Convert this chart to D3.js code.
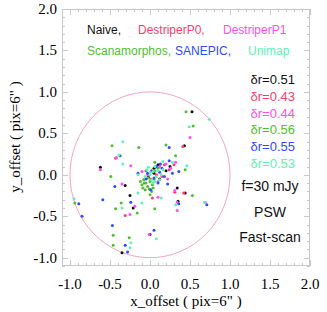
<!DOCTYPE html>
<html>
<head>
<meta charset="utf-8">
<script src="https://cdn.jsdelivr.net/npm/d3@7"></script>
<style>
  body { margin: 0; background: #fff; }
  svg { display: block; }
</style>
</head>
<body>
<script>
// axis ticks
var majorTicks = [-1.0, -0.5, 0.0, 0.5, 1.0, 1.5, 2.0];

// offsets of each map maker, in pixels of 6"
var naive = [[0.525,0.76],[0.43,0.35],[-0.62,0.09],[-0.31,-0.13],[-0.25,-0.25],[-0.21,-0.40],[-0.35,-0.94],
  [0.34,-0.16],[0.44,-0.22],[0.35,-0.32],[0.0,-0.72],[0.1,0.12],[0.2,0.05],[0.05,0.02],[-0.02,-0.03],
  [0.12,-0.05],[0.25,0.1],[0.05,0.08]];
var destriperP0 = [[-0.43,0.20],[0.41,0.34],[-0.31,-0.49],[0.42,-0.22],[0.03,-0.28],[0.31,-0.21],[0.18,0.12],
  [0.24,0.06],[0.08,0.0],[-0.05,0.05],[0.3,0.12],[0.01,-0.05],[0.15,-0.02]];
var destriperP1 = [[0.5,0.45],[-0.42,0.21],[-0.24,0.11],[-0.62,0.06],[-0.35,-0.11],[-0.19,-0.38],[-0.25,-0.48],
  [0.31,-0.19],[0.34,-0.33],[0.34,-0.43],[0.1,-0.27],[-0.01,-0.72],[0.69,-0.33],[0.26,0.08],[-0.1,0.04],
  [0.32,0.15],[0.2,0.13],[0.12,0.1],[-0.03,0.0],[0.1,-0.08],[0.22,-0.05]];
var scanamorphos = [[0.45,0.76],[0.54,0.59],[-0.475,0.35],[-0.14,0.33],[0.2,0.36],[0.32,0.23],[0.06,0.15],
  [0.44,0.06],[-0.49,-0.02],[-0.94,-0.34],[-0.36,-0.34],[-0.43,-0.41],[-0.16,-0.46],[-0.46,-0.73],
  [-0.26,-0.76],[-0.46,-0.85],[0.04,-0.16],[0.53,-0.25],[0.06,-0.41],[-0.08,-0.06],[-0.05,-0.1],
  [-0.1,-0.12],[-0.03,-0.14],[0.0,-0.08],[-0.06,-0.18],[0.02,-0.2],[-0.09,-0.16],[0.03,-0.12],
  [-0.02,-0.04],[0.05,-0.05],[-0.12,-0.08],[0.0,-0.24],[0.06,0.05],[0.1,0.08],[-0.07,-0.1],[-0.01,-0.17]];
var sanepic = [[0.24,0.33],[-0.375,0.23],[-0.15,0.02],[0.24,0.17],[0.36,0.04],[-0.44,-0.14],[-0.89,-0.35],
  [-0.59,-0.30],[-0.24,-0.33],[-0.85,-0.5],[-0.47,-0.61],[-0.31,-0.85],[-0.28,-0.93],[0.22,-0.11],
  [0.01,-0.18],[0.36,-0.35],[0.71,-0.36],[0.05,-0.67],[0.02,0.05],[0.08,0.1],[0.12,0.03],[-0.03,0.02],
  [0.15,0.08],[0.05,-0.04],[0.18,-0.02],[-0.05,-0.05],[0.1,-0.1],[0.28,0.02],[0.13,0.13]];
var unimap = [[0.74,0.67],[0.49,0.58],[-0.34,0.40],[-0.39,0.24],[-0.34,0.13],[-0.15,0.0],[0.16,0.16],
  [0.28,0.15],[0.46,0.11],[-0.95,-0.29],[-0.15,-0.22],[-0.35,-0.40],[-0.24,-0.82],[-0.25,-0.88],
  [0.14,-0.28],[-0.1,-0.34],[0.32,-0.36],[0.68,-0.33],[0.08,-0.77],[0.0,0.0],[0.04,0.04],[0.08,-0.02],
  [0.02,-0.06],[-0.04,0.06],[0.1,0.05],[0.06,0.1],[-0.02,0.09],[0.14,0.0],[0.06,-0.08],[0.12,-0.06],
  [0.0,0.03],[0.16,0.06],[-0.06,-0.02],[0.04,-0.1]];

var seriesNames = ["Naive", "DestriperP0", "DestriperP1", "Scanamorphos", "SANEPIC", "Unimap"];
var seriesData = [naive, destriperP0, destriperP1, scanamorphos, sanepic, unimap];
var seriesColors = ["#111111", "#ff3c6e", "#ff4ff0", "#4fbf2f", "#2e4bff", "#5ef2b4"];
var deltaR = ["0.51", "0.43", "0.44", "0.56", "0.55", "0.53"];
var notes = ["f=30 mJy", "PSW", "Fast-scan"];

var W = 327, H = 312;
var x = d3.scaleLinear().domain([-1.1, 2.0]).range([62, 310]);
var y = d3.scaleLinear().domain([-1.1, 2.0]).range([266, 9]);

var svg = d3.select("body").append("svg").attr("width", W).attr("height", H);
svg.append("rect").attr("width", W).attr("height", H).attr("fill", "#fff");

// minor ticks every 0.1
var minor = d3.range(-11, 21).map(function(i) { return i / 10; });
var frameColor = "#c8c8c8";
var tickG = svg.append("g").attr("stroke", frameColor).attr("stroke-width", 1);
minor.forEach(function(v) {
  var isMajor = majorTicks.some(function(m) { return Math.abs(m - v) < 1e-6; });
  var len = isMajor ? 6 : 3;
  var px = Math.round(x(v)) + 0.5, py = Math.round(y(v)) + 0.5;
  tickG.append("line").attr("x1", px).attr("x2", px).attr("y1", 266).attr("y2", 266 - len);
  tickG.append("line").attr("x1", px).attr("x2", px).attr("y1", 9).attr("y2", 9 + len);
  tickG.append("line").attr("y1", py).attr("y2", py).attr("x1", 62).attr("x2", 62 + len);
  tickG.append("line").attr("y1", py).attr("y2", py).attr("x1", 310).attr("x2", 310 - len);
});
svg.append("rect").attr("x", 62.5).attr("y", 9.5).attr("width", 247).attr("height", 256)
  .attr("fill", "none").attr("stroke", frameColor);

// tick labels
var serif = "'Liberation Serif', 'Times New Roman', serif";
var fmt = function(d) { return d3.format(".1f")(d).replace("−", "-"); };
svg.append("g").selectAll("text").data(majorTicks).enter().append("text")
  .attr("x", function(d) { return x(d); }).attr("y", 289)
  .attr("text-anchor", "middle").attr("font-family", serif).attr("font-size", 15)
  .text(fmt);
svg.append("g").selectAll("text").data(majorTicks).enter().append("text")
  .attr("x", 57).attr("y", function(d) { return y(d) + 5; })
  .attr("text-anchor", "end").attr("font-family", serif).attr("font-size", 15)
  .text(fmt);

svg.append("text").attr("x", 186).attr("y", 306).attr("text-anchor", "middle")
  .attr("font-family", serif).attr("font-size", 15).text('x_offset ( pix=6" )');
svg.append("text").attr("transform", "translate(20,137) rotate(-90)").attr("text-anchor", "middle")
  .attr("font-family", serif).attr("font-size", 15).text('y_offset ( pix=6" )');

// unit circle
svg.append("ellipse").attr("cx", x(0)).attr("cy", y(0))
  .attr("rx", x(1) - x(0)).attr("ry", y(0) - y(1))
  .attr("fill", "none").attr("stroke", "#f5a6bc").attr("stroke-width", 1);

// points
seriesData.forEach(function(pts, i) {
  svg.append("g").selectAll("circle").data(pts).enter().append("circle")
    .attr("cx", function(d) { return x(d[0]); })
    .attr("cy", function(d) { return y(d[1]); })
    .attr("r", 1.5)
    .attr("fill", seriesColors[i]);
});

// legend
var sans = "'Liberation Sans', Arial, sans-serif";
var legendPos = [[87, 34], [138, 34], [223, 34], [87, 55], [175, 55], [248, 55]];
seriesNames.forEach(function(n, i) {
  svg.append("text").attr("x", legendPos[i][0]).attr("y", legendPos[i][1])
    .attr("font-family", sans).attr("font-size", 12).attr("fill", seriesColors[i])
    .text(i === 2 || i === 5 ? n : n + ",");
});
deltaR.forEach(function(v, i) {
  svg.append("text").attr("x", 295).attr("y", 84 + i * 16.8)
    .attr("text-anchor", "end").attr("font-family", sans).attr("font-size", 13)
    .attr("fill", seriesColors[i]).text("δr=" + v);
});
notes.forEach(function(t, i) {
  svg.append("text").attr("x", 270).attr("y", 191 + i * 25.5)
    .attr("text-anchor", "middle").attr("font-family", sans).attr("font-size", 14)
    .attr("fill", "#111").text(t);
});
</script>
</body>
</html>
